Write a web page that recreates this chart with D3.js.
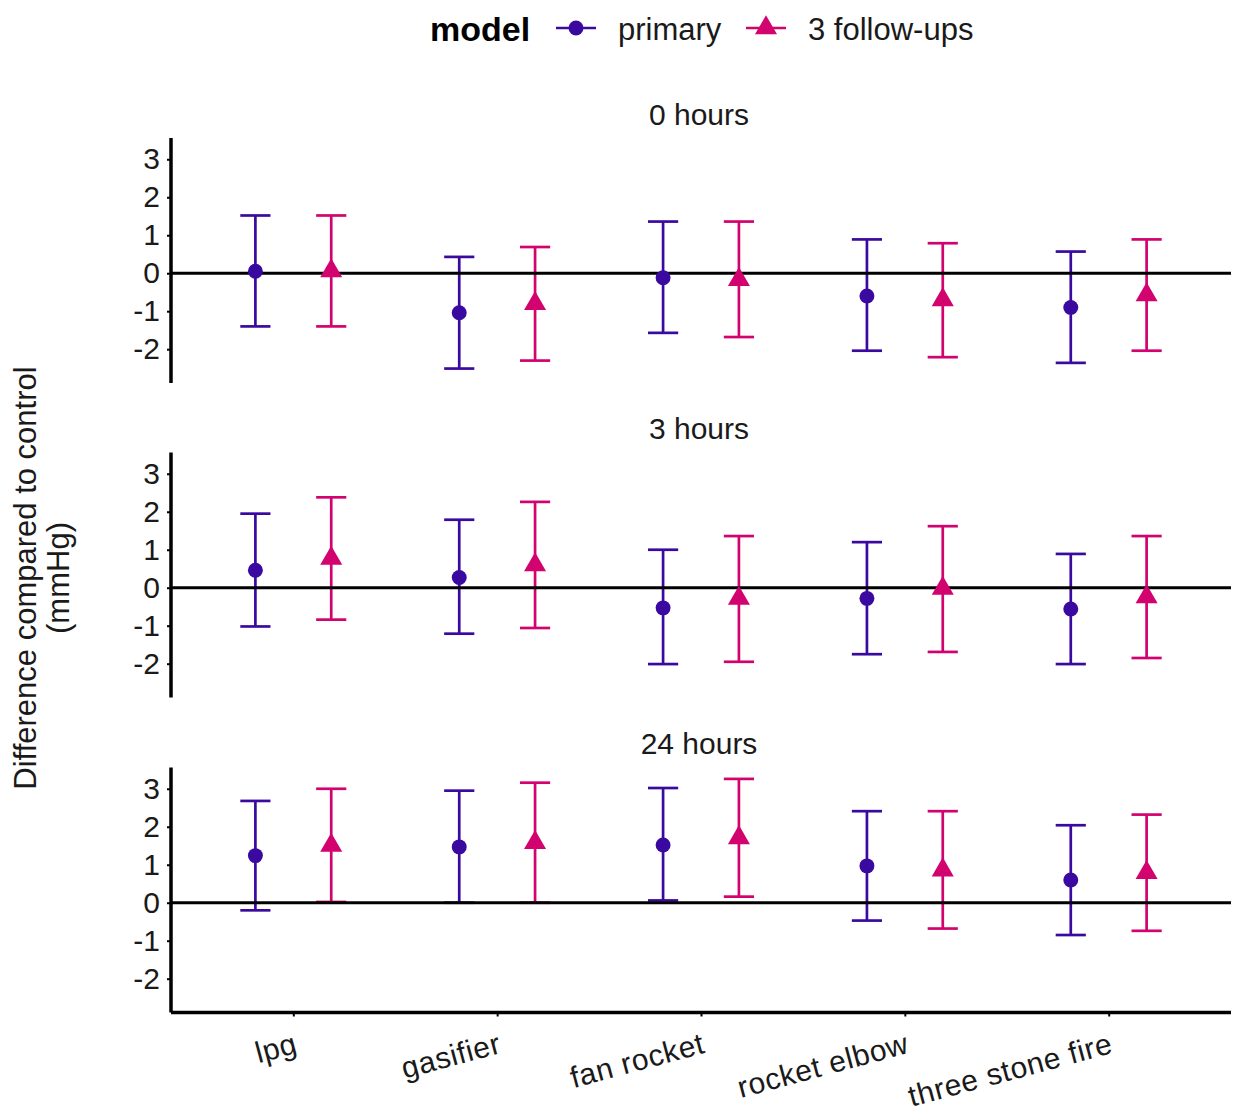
<!DOCTYPE html>
<html>
<head>
<meta charset="utf-8">
<script src="https://cdn.jsdelivr.net/npm/d3@7"></script>
<style>
  html, body { margin: 0; padding: 0; background: #ffffff; }
  svg { display: block; }
  text { font-family: "Liberation Sans", Arial, sans-serif; }
</style>
</head>
<body>
<svg id="chart" width="1233" height="1112"></svg>
<script>
// ---------------- data ----------------
const timepoints = ["0 hours", "3 hours", "24 hours"];
const stoves = ["lpg", "gasifier", "fan rocket", "rocket elbow", "three stone fire"];
const models = ["primary", "3 follow-ups"];
const yTicks = [-2, -1, 0, 1, 2, 3];

// rows = timepoints, columns = stoves
const primaryEst  = [[0.05, -1.04, -0.12, -0.60, -0.90],
                     [0.46,  0.27, -0.53, -0.28, -0.56],
                     [1.24,  1.47,  1.52,  0.97,  0.60]];
const primaryLow  = [[-1.40, -2.51, -1.57, -2.04, -2.36],
                     [-1.02, -1.21, -2.01, -1.75, -2.01],
                     [-0.20,  0.00,  0.06, -0.47, -0.85]];
const primaryHigh = [[1.52, 0.43, 1.36, 0.89, 0.57],
                     [1.95, 1.79, 1.00, 1.20, 0.89],
                     [2.68, 2.95, 3.02, 2.41, 2.04]];

const followEst   = [[0.06, -0.80, -0.17, -0.70, -0.57],
                     [0.77,  0.60, -0.28, -0.02, -0.24],
                     [1.51,  1.58,  1.71,  0.86,  0.79]];
const followLow   = [[-1.40, -2.30, -1.68, -2.21, -2.04],
                     [-0.84, -1.06, -1.95, -1.69, -1.85],
                     [ 0.02,  0.00,  0.16, -0.68, -0.74]];
const followHigh  = [[1.52, 0.69, 1.36, 0.79, 0.89],
                     [2.38, 2.26, 1.36, 1.62, 1.36],
                     [3.00, 3.16, 3.26, 2.41, 2.32]];

// ---------------- styling / layout ----------------
const colors = { "primary": "#3a0aa0", "3 follow-ups": "#d2036e" };
const plotLeft = 171, plotRight = 1231;
const panelTops = [138, 452.5, 767.5];
const panelH = 245;
const yDomain = [-2.89, 3.56];
const textCol = "#1a1a1a";

const svg = d3.select("#chart");

// build long-form records
const records = [];
timepoints.forEach((tp, ti) => {
  stoves.forEach((s, si) => {
    records.push({ tp, ti, stove: s, model: models[0], est: primaryEst[ti][si], lo: primaryLow[ti][si], hi: primaryHigh[ti][si] });
    records.push({ tp, ti, stove: s, model: models[1], est: followEst[ti][si], lo: followLow[ti][si], hi: followHigh[ti][si] });
  });
});

const x = d3.scalePoint().domain(stoves).range([plotLeft, plotRight]).padding(0.6);
const step = x.step();
const dodge = d3.scaleOrdinal().domain(models).range([-0.186 * step, 0.186 * step]);
const capHalf = 0.074 * step;

const circleSym = d3.symbol().type(d3.symbolCircle).size(175);
const triSym = d3.symbol().type(d3.symbolTriangle).size(210);

timepoints.forEach((tp, ti) => {
  const top = panelTops[ti];
  const y = d3.scaleLinear().domain(yDomain).range([top + panelH, top]);
  const g = svg.append("g");
  const data = records.filter(d => d.ti === ti);

  // strip title
  g.append("text")
    .attr("x", (plotLeft + plotRight) / 2 - 2)
    .attr("y", top - 24)
    .attr("text-anchor", "middle")
    .attr("dy", "0.35em")
    .attr("font-size", 30)
    .attr("fill", textCol)
    .text(tp);

  // y axis
  const yAxis = d3.axisLeft(y).tickValues(yTicks).tickSize(4).tickPadding(7).tickFormat(d3.format("d"));
  const ya = g.append("g").attr("transform", `translate(${plotLeft},0)`).call(yAxis);
  ya.select(".domain").attr("d", `M0,${top + panelH}V${top}`).attr("stroke", "#000").attr("stroke-width", 3.5);
  ya.selectAll(".tick line").attr("stroke", "#000").attr("stroke-width", 2);
  ya.selectAll(".tick text").attr("font-size", 30).attr("fill", textCol)
    .attr("font-family", "'Liberation Sans', Arial, sans-serif").text(d => d < 0 ? "-" + Math.abs(d) : d);

  // error bars
  const eb = g.selectAll(".eb").data(data).enter().append("g")
    .attr("stroke", d => colors[d.model]).attr("stroke-width", 2.7).attr("fill", "none");
  eb.append("line")
    .attr("x1", d => x(d.stove) + dodge(d.model)).attr("x2", d => x(d.stove) + dodge(d.model))
    .attr("y1", d => y(d.lo)).attr("y2", d => y(d.hi));
  eb.append("line")
    .attr("x1", d => x(d.stove) + dodge(d.model) - capHalf).attr("x2", d => x(d.stove) + dodge(d.model) + capHalf)
    .attr("y1", d => y(d.hi)).attr("y2", d => y(d.hi));
  eb.append("line")
    .attr("x1", d => x(d.stove) + dodge(d.model) - capHalf).attr("x2", d => x(d.stove) + dodge(d.model) + capHalf)
    .attr("y1", d => y(d.lo)).attr("y2", d => y(d.lo));

  // zero reference line
  g.append("line")
    .attr("x1", plotLeft).attr("x2", plotRight)
    .attr("y1", y(0)).attr("y2", y(0))
    .attr("stroke", "#000").attr("stroke-width", 3);

  // points
  g.selectAll(".pt").data(data).enter().append("path")
    .attr("transform", d => `translate(${x(d.stove) + dodge(d.model)},${y(d.est)})`)
    .attr("d", d => d.model === models[0] ? circleSym() : triSym())
    .attr("fill", d => colors[d.model]);

  // x axis only on bottom panel
  if (ti === timepoints.length - 1) {
    const xAxis = d3.axisBottom(x).tickSize(4).tickFormat("");
    const xa = g.append("g").attr("transform", `translate(0,${top + panelH})`).call(xAxis);
    xa.select(".domain").attr("d", `M${plotLeft},0H${plotRight}`).attr("stroke", "#000").attr("stroke-width", 3.5);
    xa.selectAll(".tick line").attr("stroke", "#000").attr("stroke-width", 2);
    g.selectAll(".xlab").data(stoves).enter().append("text")
      .attr("transform", d => `translate(${x(d) + 5.5},${top + panelH + 40}) rotate(-15)`)
      .attr("text-anchor", "end")
      .attr("font-size", 30)
      .attr("letter-spacing", 0.6)
      .attr("fill", textCol)
      .text(d => d);
  }
});

// y axis title
const yTitle = svg.append("text")
  .attr("transform", `translate(36,578) rotate(-90)`)
  .attr("text-anchor", "middle")
  .attr("font-size", 31)
  .attr("fill", textCol);
yTitle.append("tspan").attr("x", 0).attr("dy", 0).text("Difference compared to control");
yTitle.append("tspan").attr("x", 0).attr("dy", 33).text("(mmHg)");

// legend
const leg = svg.append("g");
leg.append("text").attr("x", 430).attr("y", 29).attr("dy", "0.35em")
  .attr("font-size", 34).attr("font-weight", "bold").attr("fill", "#000").text("model");
const legItems = [
  { model: models[0], kx: 576, tx: 618 },
  { model: models[1], kx: 766, tx: 808 }
];
legItems.forEach(it => {
  leg.append("line").attr("x1", it.kx - 20).attr("x2", it.kx + 20).attr("y1", 28).attr("y2", 28)
    .attr("stroke", colors[it.model]).attr("stroke-width", 2.7);
  leg.append("path").attr("transform", `translate(${it.kx},28)`)
    .attr("d", it.model === models[0] ? circleSym() : triSym())
    .attr("fill", colors[it.model]);
  leg.append("text").attr("x", it.tx).attr("y", 29).attr("dy", "0.35em")
    .attr("font-size", 31).attr("fill", textCol).text(it.model);
});
</script>
</body>
</html>
